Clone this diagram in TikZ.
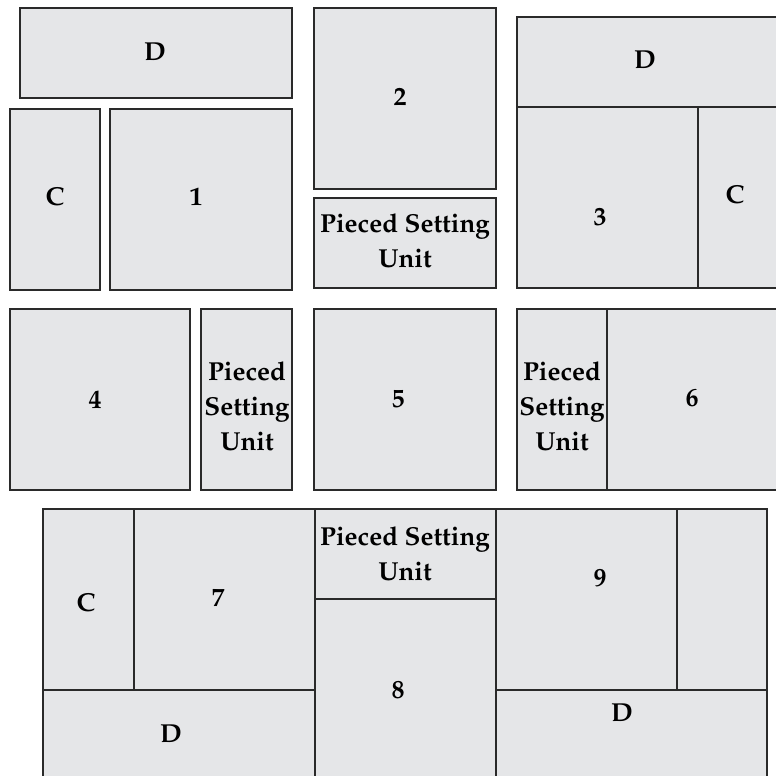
\documentclass[tikz,border=0pt]{standalone}
\usepackage[T1]{fontenc}
\usepackage{mathpazo}
\definecolor{blkfill}{HTML}{E5E6E8}
\definecolor{blkline}{HTML}{2A2A2A}
\tikzset{
  blk/.style={fill=blkfill, draw=blkline, line width=1.3pt},
  lbl/.style={font=\fontsize{26}{35}\selectfont\bfseries, text=black, align=center, inner sep=0pt},
}
\begin{document}
\begin{tikzpicture}[x=1pt,y=-1pt]
\useasboundingbox (0,0) rectangle (776,776);
\clip (0,0) rectangle (776,776);
% top-left block
\draw[blk] (20,8) rectangle (292,98);
\draw[blk] (10,109) rectangle (100,290);
\draw[blk] (110,109) rectangle (292,290);
\node[lbl] (d1) at (155,52) {D};
\node[lbl] (c1) at (55,197) {C};
\node[lbl] (n1) at (196,197) {1};
% top-middle
\draw[blk] (314,8) rectangle (496,189);
\draw[blk] (314,198) rectangle (496,288);
\node[lbl] (n2) at (400,97) {2};
\node[lbl] (p1) at (405,241) {Pieced Setting\\Unit};
% top-right
\draw[blk] (517,17) rectangle (790,107);
\draw[blk] (517,107) rectangle (698,288);
\draw[blk] (698,107) rectangle (790,288);
\node[lbl] (d2) at (645,60) {D};
\node[lbl] (n3) at (600,217) {3};
\node[lbl] (c2) at (735,195) {C};
% row 2
\draw[blk] (10,309) rectangle (190,490);
\draw[blk] (201,309) rectangle (292,490);
\draw[blk] (314,309) rectangle (496,490);
\draw[blk] (517,309) rectangle (607,490);
\draw[blk] (607,309) rectangle (790,490);
\node[lbl] (n4) at (95,400) {4};
\node[lbl] (p2) at (247,406) {Pieced\\Setting\\Unit};
\node[lbl] (n5) at (398,399) {5};
\node[lbl] (p3) at (562,406) {Pieced\\Setting\\Unit};
\node[lbl] (n6) at (692,398) {6};
% bottom
\draw[blk] (43,509) rectangle (134,690);
\draw[blk] (134,509) rectangle (315,690);
\draw[blk] (43,690) rectangle (315,800);
\draw[blk] (315,509) rectangle (496,599);
\draw[blk] (315,599) rectangle (496,800);
\draw[blk] (496,509) rectangle (677,690);
\draw[blk] (677,509) rectangle (767,690);
\draw[blk] (496,690) rectangle (767,800);
\node[lbl] (c3) at (86,603) {C};
\node[lbl] (n7) at (218,598) {7};
\node[lbl] (p4) at (405,554) {Pieced Setting\\Unit};
\node[lbl] (n8) at (398,690) {8};
\node[lbl] (d3) at (171,734) {D};
\node[lbl] (n9) at (600,578) {9};
\node[lbl] (d4) at (622,713) {D};
\end{tikzpicture}
\end{document}
